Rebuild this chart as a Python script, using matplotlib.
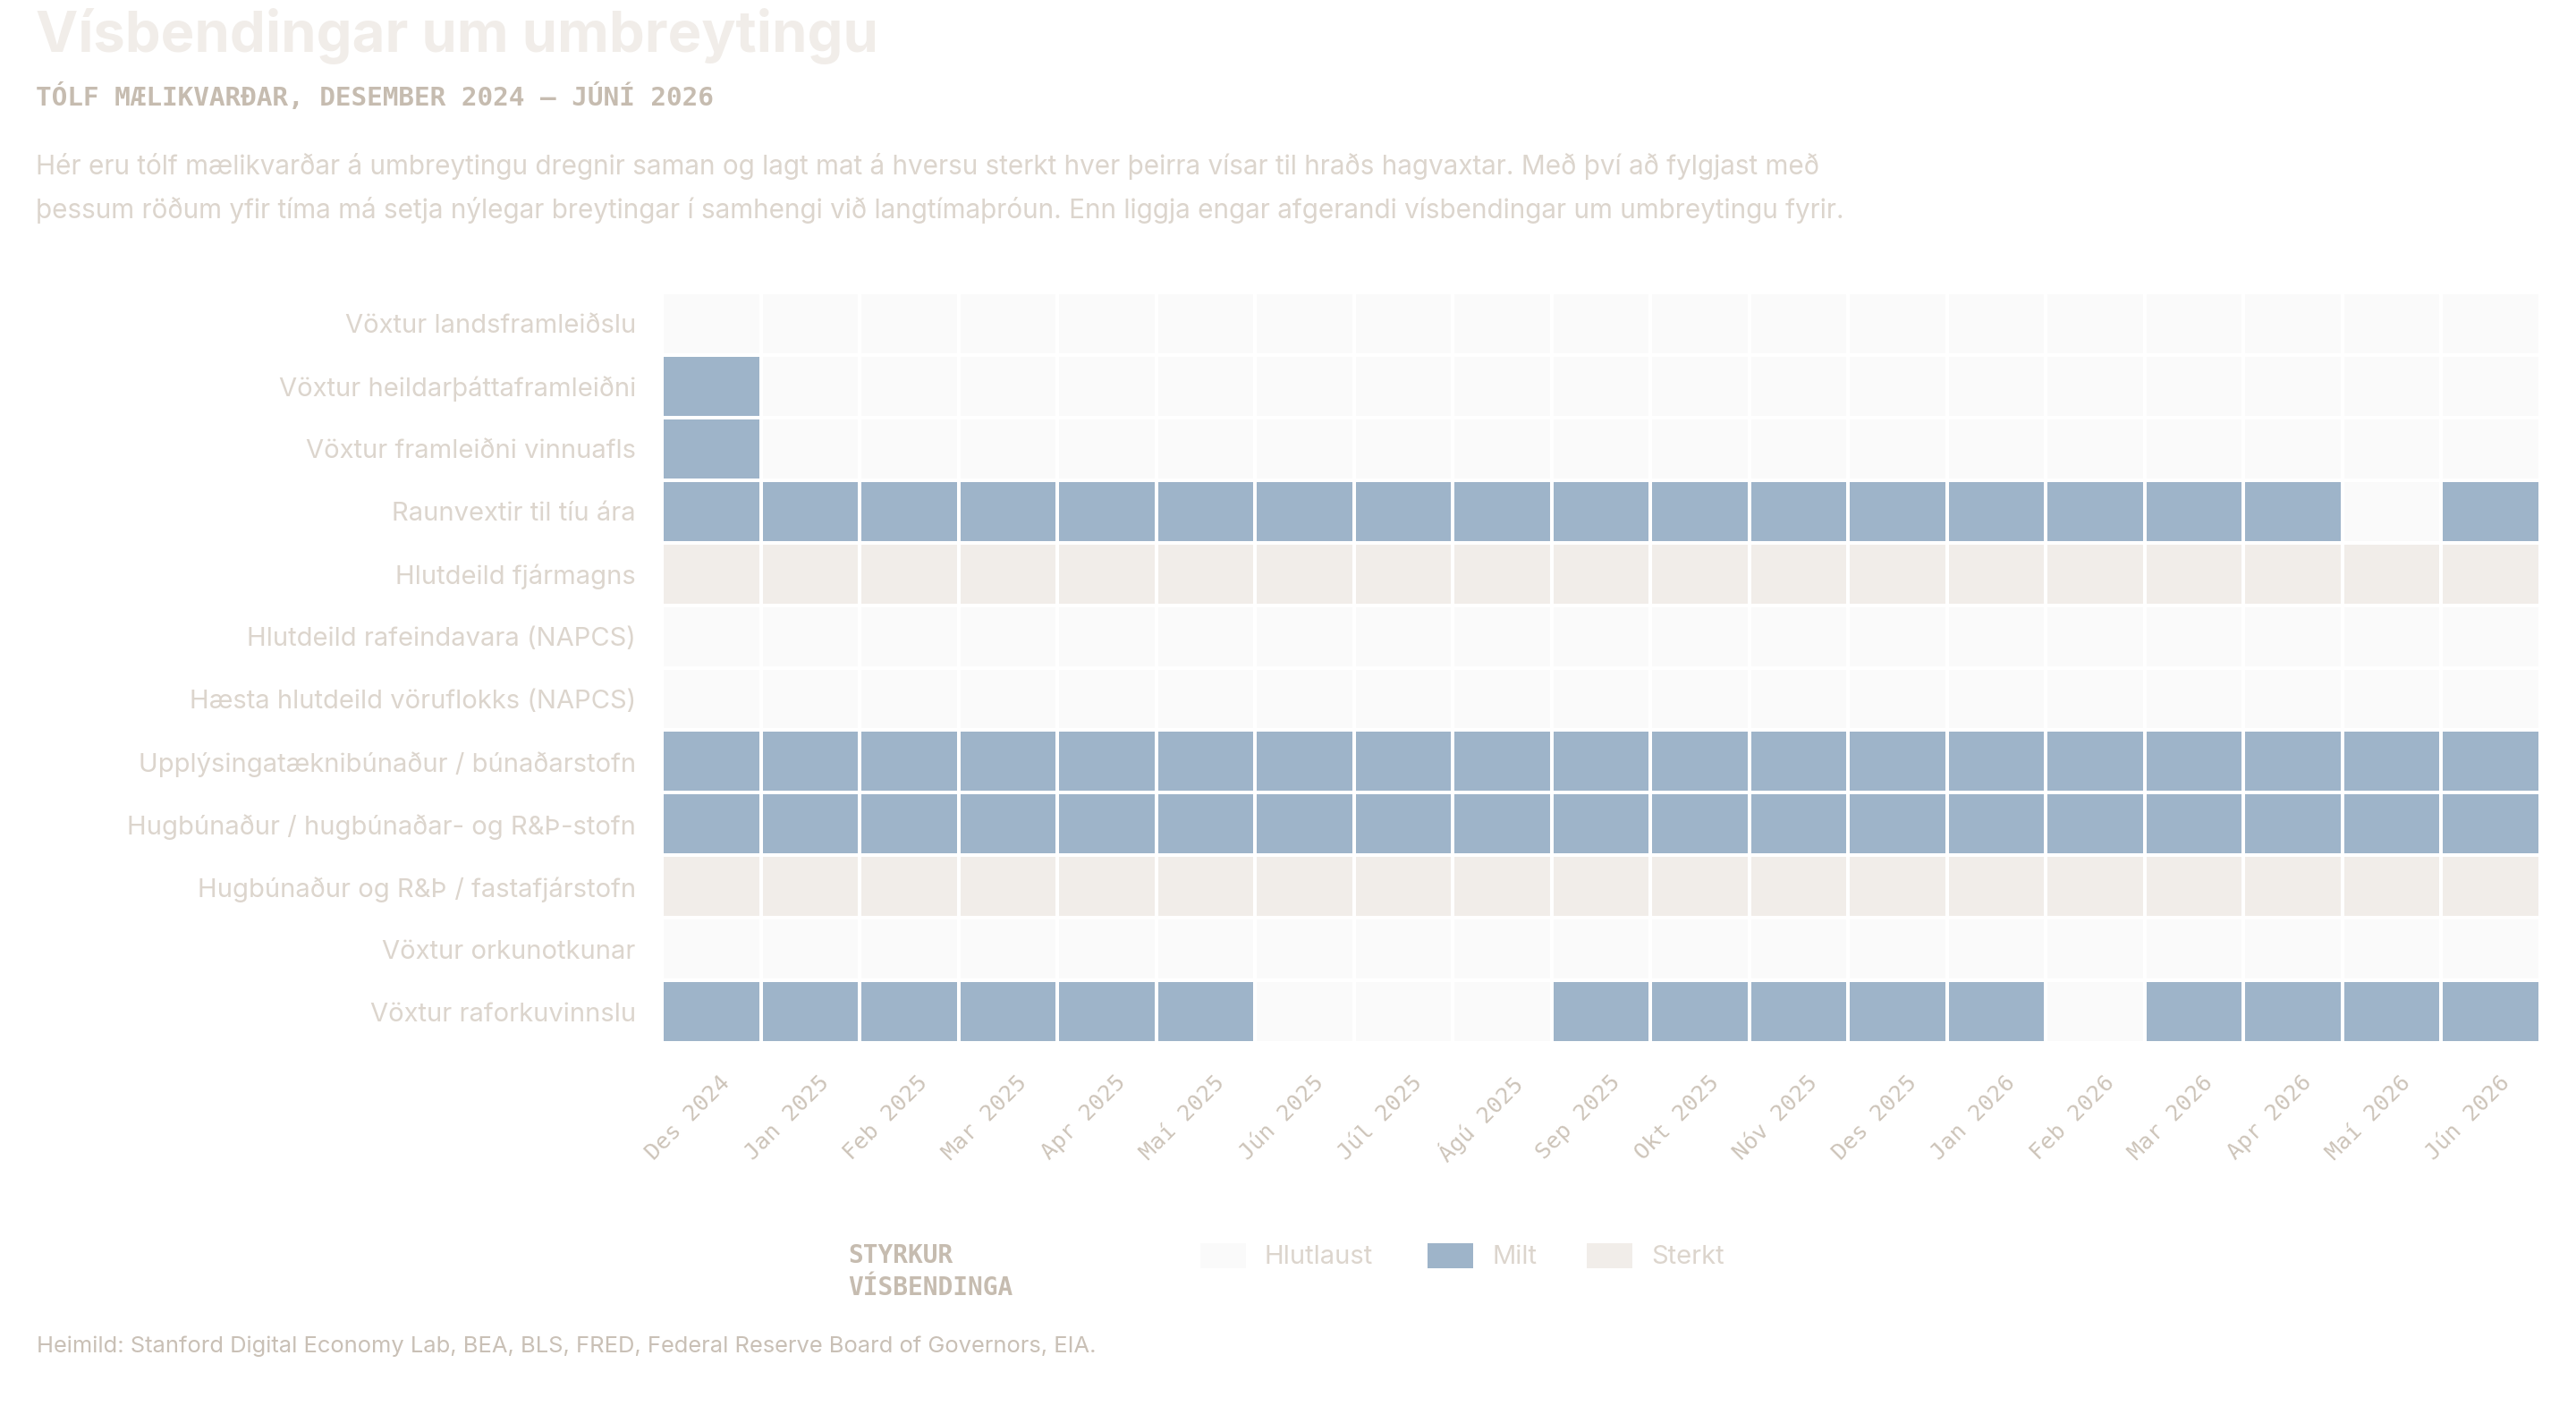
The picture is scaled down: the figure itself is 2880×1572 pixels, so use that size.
import numpy as np
import matplotlib
matplotlib.use("Agg")
import matplotlib.pyplot as plt
from matplotlib.colors import ListedColormap, BoundaryNorm
from matplotlib.patches import Rectangle
from matplotlib.transforms import ScaledTranslation

months = [
    "Des 2024", "Jan 2025", "Feb 2025", "Mar 2025", "Apr 2025", "Maí 2025",
    "Jún 2025", "Júl 2025", "Ágú 2025", "Sep 2025", "Okt 2025", "Nóv 2025",
    "Des 2025", "Jan 2026", "Feb 2026", "Mar 2026", "Apr 2026", "Maí 2026",
    "Jún 2026",
]

indicators = [
    "Vöxtur landsframleiðslu",
    "Vöxtur heildarþáttaframleiðni",
    "Vöxtur framleiðni vinnuafls",
    "Raunvextir til tíu ára",
    "Hlutdeild fjármagns",
    "Hlutdeild rafeindavara (NAPCS)",
    "Hæsta hlutdeild vöruflokks (NAPCS)",
    "Upplýsingatæknibúnaður / búnaðarstofn",
    "Hugbúnaður / hugbúnaðar- og R&Þ-stofn",
    "Hugbúnaður og R&Þ / fastafjárstofn",
    "Vöxtur orkunotkunar",
    "Vöxtur raforkuvinnslu",
]

levels = ["Hlutlaust", "Milt", "Sterkt"]

# 0 = Hlutlaust, 1 = Milt, 2 = Sterkt
gdp_growth = [0, 0, 0, 0, 0, 0, 0, 0, 0, 0, 0, 0, 0, 0, 0, 0, 0, 0, 0]
tfp_growth = [1, 0, 0, 0, 0, 0, 0, 0, 0, 0, 0, 0, 0, 0, 0, 0, 0, 0, 0]
labor_prod = [1, 0, 0, 0, 0, 0, 0, 0, 0, 0, 0, 0, 0, 0, 0, 0, 0, 0, 0]
real_rates = [1, 1, 1, 1, 1, 1, 1, 1, 1, 1, 1, 1, 1, 1, 1, 1, 1, 0, 1]
capital_share = [2, 2, 2, 2, 2, 2, 2, 2, 2, 2, 2, 2, 2, 2, 2, 2, 2, 2, 2]
electronics_share = [0, 0, 0, 0, 0, 0, 0, 0, 0, 0, 0, 0, 0, 0, 0, 0, 0, 0, 0]
top_product_share = [0, 0, 0, 0, 0, 0, 0, 0, 0, 0, 0, 0, 0, 0, 0, 0, 0, 0, 0]
it_equipment = [1, 1, 1, 1, 1, 1, 1, 1, 1, 1, 1, 1, 1, 1, 1, 1, 1, 1, 1]
software_rd = [1, 1, 1, 1, 1, 1, 1, 1, 1, 1, 1, 1, 1, 1, 1, 1, 1, 1, 1]
software_fixed = [2, 2, 2, 2, 2, 2, 2, 2, 2, 2, 2, 2, 2, 2, 2, 2, 2, 2, 2]
energy_use = [0, 0, 0, 0, 0, 0, 0, 0, 0, 0, 0, 0, 0, 0, 0, 0, 0, 0, 0]
power_gen = [1, 1, 1, 1, 1, 1, 0, 0, 0, 1, 1, 1, 1, 1, 0, 1, 1, 1, 1]

title = "Vísbendingar um umbreytingu"
subtitle = "TÓLF MÆLIKVARÐAR, DESEMBER 2024 – JÚNÍ 2026"
desc_1 = ("Hér eru tólf mælikvarðar á umbreytingu dregnir saman og lagt mat á hversu "
          "sterkt hver þeirra vísar til hraðs hagvaxtar. Með því að fylgjast með")
desc_2 = ("þessum röðum yfir tíma má setja nýlegar breytingar í samhengi við "
          "langtímaþróun. Enn liggja engar afgerandi vísbendingar um umbreytingu fyrir.")
source = ("Heimild: Stanford Digital Economy Lab, BEA, BLS, FRED, "
          "Federal Reserve Board of Governors, EIA.")

level_colors = ["#fafafa", "#9eb4c9", "#f1ede9"]
sans = ["Inter", "DejaVu Sans"]
mono = ["DejaVu Sans Mono"]

grid = np.array([
    gdp_growth, tfp_growth, labor_prod, real_rates, capital_share,
    electronics_share, top_product_share, it_equipment, software_rd,
    software_fixed, energy_use, power_gen,
])

W, H = 2880, 1572
fig = plt.figure(figsize=(14.4, 7.86), dpi=200)
fig.patch.set_facecolor("white")

ax = fig.add_axes([740 / W, 1 - 1166 / H, 2100 / W, 839 / H])
cmap = ListedColormap(level_colors)
norm = BoundaryNorm([-0.5, 0.5, 1.5, 2.5], cmap.N)
ax.pcolormesh(grid, cmap=cmap, norm=norm, edgecolors="white", linewidth=0.75)
ax.set_xlim(0, len(months))
ax.set_ylim(len(indicators), 0)
for s in ax.spines.values():
    s.set_visible(False)

ax.set_yticks(np.arange(len(indicators)) + 0.5)
ax.set_yticklabels(indicators, family=sans, fontsize=10.5, color="#dcd5cd")
ax.tick_params(axis="y", length=0, pad=10.5)

ax.set_xticks(np.arange(len(months)) + 0.5)
ax.set_xticklabels(months, family=mono, fontsize=9.1, color="#cdc4b9",
                   rotation=45, ha="right", va="top", rotation_mode="anchor")
ax.tick_params(axis="x", length=0, pad=11.5)
shift = ScaledTranslation(0.045, 0, fig.dpi_scale_trans)
for lab in ax.get_xticklabels():
    lab.set_transform(lab.get_transform() + shift)

# header
fig.text(40 / W, 1 - 58 / H, title, family=sans, fontsize=22.8, weight="bold",
         color="#f1ede9", va="baseline")
fig.text(40 / W, 1 - 118 / H, subtitle, family=mono, fontsize=10.6,
         weight="bold", color="#c6bcb0", va="baseline")
fig.text(40 / W, 1 - 195 / H, desc_1, family=sans, fontsize=10.7,
         color="#dcd5cd", va="baseline")
fig.text(40 / W, 1 - 244 / H, desc_2, family=sans, fontsize=10.7,
         color="#dcd5cd", va="baseline")

# legend
fig.text(948 / W, 1 - 1412 / H, "STYRKUR", family=mono, fontsize=10,
         weight="bold", color="#c6bcb0", va="baseline")
fig.text(948 / W, 1 - 1448 / H, "VÍSBENDINGA", family=mono, fontsize=10,
         weight="bold", color="#c6bcb0", va="baseline")
patch_x = [1342, 1596, 1774]
for name, col, px in zip(levels, level_colors, patch_x):
    fig.patches.append(Rectangle((px / W, 1 - 1418 / H), 51 / W, 28 / H,
                                 transform=fig.transFigure, facecolor=col,
                                 edgecolor="none"))
    fig.text((px + 72) / W, 1 - 1413 / H, name, family=sans, fontsize=10.5,
             color="#dcd5cd", va="baseline")

fig.text(41 / W, 1 - 1512 / H, source, family=sans, fontsize=9.2,
         color="#c9c0b6", va="baseline")

fig.savefig("out.png", dpi=200, facecolor="white")
